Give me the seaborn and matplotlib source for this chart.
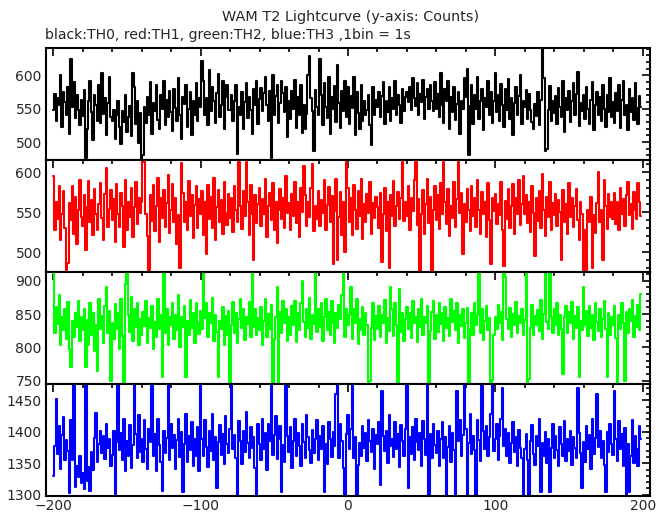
import numpy as np
import pandas as pd
import matplotlib
matplotlib.use("Agg")
import matplotlib.pyplot as plt
import seaborn as sns
from matplotlib.ticker import MultipleLocator

# --------------------------------------
# DATA (counts per 1 s bin, t = -200 .. 199)
# --------------------------------------

title = "WAM T2 Lightcurve (y-axis: Counts)"
subtitle = "black:TH0, red:TH1, green:TH2, blue:TH3 ,1bin = 1s"

t_start = -200

th0 = [
    548, 572, 531, 566, 556, 601, 522, 575, 560, 541, 583, 512, 624, 553, 590, 536, 571, 548, 525, 563,
    539, 578, 476, 520, 561, 592, 545, 503, 570, 555, 532, 586, 528, 604, 542, 566, 511, 558, 598, 537,
    531, 548, 505, 540, 562, 522, 497, 546, 530, 571, 515, 538, 554, 509, 604, 583, 527, 561, 498, 543,
    474, 481, 552, 529, 568, 540, 590, 512, 558, 547, 586, 533, 519, 571, 550, 592, 526, 563, 538, 577,
    545, 516, 580, 551, 532, 596, 541, 504, 568, 557, 585, 523, 549, 575, 510, 562, 540, 588, 531, 566,
    553, 621, 591, 540, 566, 526, 608, 547, 583, 561, 529, 574, 602, 538, 556, 592, 519, 567, 585, 548,
    548, 570, 531, 562, 586, 482, 553, 540, 575, 519, 560, 589, 536, 568, 548, 512, 579, 555, 591, 527,
    564, 581, 546, 573, 598, 556, 532, 577, 476, 600, 541, 569, 586, 528, 558, 591, 574, 545, 582, 507,
    561, 534, 577, 549, 593, 521, 568, 540, 585, 513, 556, 520, 542, 600, 629, 566, 547, 486, 578, 552,
    541, 624, 570, 525, 589, 553, 536, 598, 512, 567, 549, 584, 530, 615, 558, 521, 577, 546, 592, 538,
    583, 527, 569, 551, 598, 510, 575, 544, 520, 586, 532, 562, 540, 548, 571, 525, 495, 583, 540, 563,
    552, 575, 538, 569, 590, 527, 561, 545, 583, 532, 566, 549, 592, 540, 571, 556, 528, 580, 547, 568,
    575, 560, 583, 548, 596, 566, 554, 588, 541, 572, 560, 593, 535, 567, 579, 550, 585, 562, 546, 590,
    549, 572, 537, 604, 556, 528, 580, 561, 591, 520, 568, 545, 583, 533, 557, 575, 512, 562, 549, 596,
    568, 610, 480, 554, 586, 527, 570, 549, 597, 535, 562, 580, 518, 566, 553, 591, 540, 575, 528, 561,
    603, 545, 570, 531, 587, 556, 522, 579, 548, 595, 534, 566, 510, 558, 583, 541, 569, 600, 527, 562,
    552, 578, 535, 572, 548, 530, 520, 557, 539, 575, 526, 563, 641, 596, 486, 490, 548, 584, 532, 561,
    544, 569, 527, 581, 553, 538, 592, 515, 566, 548, 577, 530, 561, 589, 541, 572, 605, 524, 558, 546,
    571, 535, 582, 550, 527, 563, 590, 518, 556, 575, 541, 567, 532, 586, 549, 523, 570, 545, 596, 538,
    560, 529, 574, 547, 585, 521, 563, 592, 540, 556, 518, 579, 545, 566, 533, 588, 551, 527, 569, 552,
]

th1 = [
    595, 528, 562, 541, 583, 515, 548, 576, 530, 478, 486, 561, 540, 582, 523, 569, 510, 553, 590, 544,
    533, 571, 502, 556, 589, 538, 565, 521, 579, 547, 528, 560, 586, 542, 515, 573, 605, 531, 554, 577,
    540, 566, 512, 585, 548, 531, 574, 557, 506, 590, 527, 562, 544, 580, 519, 556, 587, 535, 568, 549,
    563, 614, 612, 548, 520, 478, 571, 539, 584, 526, 558, 592, 512, 567, 543, 578, 531, 561, 596, 524,
    552, 585, 537, 568, 510, 546, 480, 611, 574, 538, 563, 527, 589, 545, 571, 517, 559, 583, 530, 566,
    548, 576, 521, 563, 497, 584, 541, 569, 530, 592, 515, 556, 578, 537, 565, 522, 587, 549, 534, 572,
    543, 568, 525, 582, 552, 537, 612, 558, 529, 576, 545, 612, 563, 521, 584, 547, 490, 571, 536, 560,
    580, 533, 566, 548, 591, 519, 557, 574, 540, 586, 528, 563, 511, 552, 579, 541, 568, 530, 595, 549,
    561, 527, 573, 545, 588, 536, 562, 519, 580, 550, 607, 571, 533, 562, 544, 580, 610, 526, 558, 541,
    576, 532, 565, 549, 590, 528, 559, 581, 537, 570, 485, 551, 591, 490, 544, 575, 521, 563, 500, 612,
    580, 538, 567, 521, 584, 553, 529, 576, 545, 591, 516, 560, 538, 572, 549, 587, 523, 561, 542, 569,
    556, 530, 574, 487, 548, 580, 526, 563, 480, 571, 545, 589, 532, 558, 575, 541, 567, 612, 539, 562,
    545, 583, 527, 568, 551, 590, 612, 534, 566, 475, 547, 577, 522, 560, 591, 536, 569, 473, 553, 582,
    540, 571, 529, 586, 548, 612, 562, 535, 579, 520, 557, 543, 588, 531, 566, 612, 549, 574, 497, 560,
    537, 579, 552, 526, 583, 545, 568, 531, 590, 553, 522, 575, 547, 562, 519, 586, 540, 485, 568, 551,
    573, 535, 560, 546, 588, 527, 482, 564, 541, 579, 530, 557, 585, 522, 568, 547, 590, 534, 560, 595,
    548, 571, 536, 562, 525, 583, 549, 495, 567, 539, 576, 530, 597, 553, 520, 569, 544, 587, 528, 561,
    546, 572, 532, 565, 550, 490, 578, 537, 560, 523, 586, 544, 568, 531, 557, 579, 540, 515, 563, 548,
    475, 527, 478, 552, 538, 569, 480, 546, 524, 561, 600, 538, 552, 490, 590, 557, 529, 572, 544, 563,
    541, 574, 535, 562, 527, 580, 548, 566, 533, 571, 588, 546, 560, 529, 575, 552, 541, 586, 563, 545,
]

th2 = [
    912, 822, 861, 835, 878, 804, 846, 826, 858, 812, 868, 797, 770, 840, 815, 852, 831, 870, 809, 845,
    826, 858, 770, 841, 803, 866, 818, 851, 795, 834, 764, 872, 828, 847, 807, 862, 890, 822, 855, 750,
    836, 812, 865, 828, 851, 798, 873, 817, 745, 895, 912, 848, 823, 876, 809, 857, 830, 866, 804, 842,
    819, 853, 832, 870, 806, 844, 829, 862, 797, 838, 815, 873, 827, 849, 756, 912, 821, 858, 803, 846,
    834, 867, 812, 849, 826, 879, 801, 845, 831, 862, 756, 840, 818, 871, 829, 852, 807, 866, 836, 820,
    855, 827, 912, 844, 866, 815, 851, 836, 874, 809, 848, 823, 756, 840, 828, 861, 803, 847, 818, 855,
    745, 833, 868, 821, 851, 806, 843, 872, 829, 857, 811, 846, 835, 868, 815, 912, 830, 858, 818, 844,
    826, 861, 803, 839, 872, 816, 850, 827, 864, 741, 812, 846, 890, 745, 853, 822, 869, 836, 857, 810,
    845, 819, 862, 833, 870, 808, 851, 826, 866, 900, 838, 815, 857, 829, 874, 812, 848, 835, 912, 823,
    858, 831, 867, 810, 845, 872, 826, 853, 818, 869, 837, 806, 851, 829, 863, 842, 878, 912, 816, 857,
    834, 849, 890, 813, 857, 836, 872, 805, 843, 826, 861, 818, 852, 833, 745, 750, 829, 866, 811, 847,
    828, 862, 815, 848, 836, 871, 806, 844, 825, 890, 857, 817, 866, 834, 745, 888, 823, 851, 809, 842,
    861, 828, 852, 814, 869, 837, 846, 808, 857, 831, 873, 819, 846, 836, 862, 745, 825, 853, 870, 812,
    848, 823, 866, 835, 852, 810, 861, 829, 844, 817, 872, 838, 855, 826, 867, 806, 849, 832, 858, 814,
    836, 859, 745, 827, 852, 818, 866, 834, 848, 912, 821, 857, 811, 839, 862, 826, 844, 740, 751, 818,
    845, 828, 864, 836, 853, 811, 912, 905, 842, 827, 859, 815, 850, 833, 868, 821, 847, 836, 858, 819,
    841, 912, 745, 752, 829, 863, 818, 847, 834, 856, 825, 871, 813, 850, 912, 838, 827, 912, 845, 822,
    857, 834, 866, 818, 849, 828, 760, 845, 862, 821, 853, 836, 868, 813, 847, 829, 861, 755, 840, 826,
    890, 833, 855, 817, 862, 829, 848, 811, 866, 838, 824, 857, 815, 843, 870, 828, 755, 852, 819, 846,
    833, 862, 814, 745, 849, 827, 867, 836, 750, 853, 821, 858, 839, 871, 815, 847, 830, 864, 826, 880,
]

th3 = [
    1330, 1378, 1452, 1364, 1410, 1341, 1395, 1423, 1356, 1387, 1370, 1302, 1418, 1355, 1475, 1312, 1346, 1328, 1361, 1318,
    1335, 1309, 1475, 1322, 1344, 1306, 1368, 1339, 1390, 1430, 1352, 1381, 1401, 1366, 1393, 1357, 1412, 1374, 1389, 1345,
    1363, 1402, 1301, 1384, 1475, 1371, 1398, 1355, 1420, 1337, 1386, 1362, 1411, 1343, 1379, 1475, 1396, 1358, 1427, 1368,
    1389, 1352, 1418, 1373, 1341, 1405, 1384, 1475, 1361, 1396, 1338, 1421, 1379, 1352, 1306, 1402, 1367, 1390, 1475, 1356,
    1412, 1374, 1395, 1341, 1387, 1420, 1360, 1399, 1305, 1381, 1428, 1352, 1394, 1371, 1415, 1346, 1389, 1362, 1407, 1337,
    1475, 1389, 1361, 1418, 1376, 1344, 1402, 1370, 1429, 1355, 1391, 1310, 1384, 1411, 1363, 1397, 1349, 1425, 1380, 1366,
    1405, 1475, 1372, 1395, 1358, 1300, 1417, 1386, 1349, 1401, 1368, 1432, 1383, 1359, 1408, 1375, 1392, 1343, 1300, 1412,
    1381, 1356, 1420, 1372, 1398, 1340, 1412, 1386, 1475, 1363, 1395, 1425, 1357, 1388, 1410, 1305, 1379, 1352, 1475, 1393,
    1368, 1407, 1342, 1386, 1420, 1361, 1398, 1377, 1345, 1412, 1384, 1359, 1426, 1391, 1371, 1350, 1403, 1366, 1389, 1418,
    1355, 1393, 1372, 1410, 1305, 1381, 1349, 1415, 1388, 1360, 1400, 1378, 1460, 1475, 1359, 1413, 1385, 1342, 1300, 1396,
    1427, 1372, 1404, 1475, 1359, 1391, 1300, 1347, 1382, 1362, 1410, 1374, 1398, 1353, 1419, 1386, 1368, 1404, 1341, 1395,
    1380, 1415, 1315, 1465, 1394, 1369, 1402, 1351, 1427, 1378, 1388, 1360, 1416, 1373, 1397, 1344, 1411, 1386, 1362, 1405,
    1475, 1310, 1392, 1364, 1408, 1356, 1421, 1384, 1371, 1398, 1345, 1417, 1389, 1363, 1475, 1300, 1396, 1358, 1412, 1379,
    1367, 1402, 1346, 1389, 1415, 1358, 1392, 1300, 1376, 1410, 1352, 1398, 1371, 1300, 1465, 1386, 1418, 1361, 1395, 1475,
    1405, 1300, 1382, 1429, 1364, 1393, 1371, 1300, 1419, 1387, 1354, 1475, 1401, 1372, 1410, 1362, 1391, 1428, 1475, 1369,
    1388, 1412, 1356, 1394, 1420, 1470, 1377, 1405, 1361, 1398, 1350, 1383, 1415, 1368, 1392, 1345, 1403, 1374, 1358, 1300,
    1372, 1396, 1355, 1300, 1385, 1411, 1364, 1348, 1393, 1377, 1420, 1305, 1382, 1362, 1400, 1351, 1389, 1305, 1374, 1412,
    1359, 1394, 1371, 1346, 1408, 1380, 1362, 1417, 1353, 1388, 1369, 1401, 1347, 1392, 1375, 1358, 1470, 1398, 1366, 1310,
    1384, 1352, 1410, 1373, 1395, 1341, 1420, 1365, 1390, 1460, 1376, 1402, 1358, 1385, 1347, 1305, 1399, 1368, 1412, 1381,
    1363, 1465, 1388, 1354, 1417, 1372, 1396, 1345, 1406, 1300, 1380, 1305, 1362, 1418, 1350, 1394, 1372, 1345, 1410, 1389,
]

series = [th0, th1, th2, th3]
colors = ["#000000", "#ff0000", "#00ff00", "#0000ff"]
y_limits = [(473, 641), (475, 615), (745, 913), (1298, 1476)]

# --------------------------------------
# FIGURE
# --------------------------------------

sns.set_style("white")
plt.rcParams["font.family"] = ["DejaVu Sans"]
plt.rcParams["axes.linewidth"] = 1.5

fig = plt.figure(figsize=(6.69, 5.15), dpi=100)

gs = fig.add_gridspec(
    4, 1,
    left=46 / 669, right=650 / 669,
    top=1 - 48 / 515, bottom=1 - 496 / 515,
    hspace=0
)

for i, (values, color, ylim) in enumerate(zip(series, colors, y_limits)):

    ax = fig.add_subplot(gs[i])

    df = pd.DataFrame({
        "time": np.arange(t_start, t_start + len(values)),
        "counts": values,
    })

    sns.lineplot(
        data=df,
        x="time",
        y="counts",
        color=color,
        linewidth=1.5,
        drawstyle="steps-mid",
        estimator=None,
        ax=ax
    )

    ax.set_xlim(-205, 205)
    ax.set_ylim(*ylim)
    ax.set_xlabel("")
    ax.set_ylabel("")

    ax.xaxis.set_major_locator(MultipleLocator(100))
    ax.xaxis.set_minor_locator(MultipleLocator(20))
    ax.yaxis.set_major_locator(MultipleLocator(50))
    ax.yaxis.set_minor_locator(MultipleLocator(10))

    ax.tick_params(which="both", direction="in", top=True, right=True,
                   color="black", width=1.2)
    ax.tick_params(which="major", length=6, labelsize=10, pad=3)
    ax.tick_params(which="minor", length=3)

    for spine in ax.spines.values():
        spine.set_color("black")

    if i < 3:
        ax.tick_params(labelbottom=False)
    else:
        ax.tick_params(axis="x", pad=2)

fig.text(351 / 669, 1 - 17 / 515, title, ha="center", va="center", fontsize=10.4)
fig.text(45 / 669, 1 - 35 / 515, subtitle, ha="left", va="center", fontsize=10.1)

fig.savefig("out.png", dpi=100)
